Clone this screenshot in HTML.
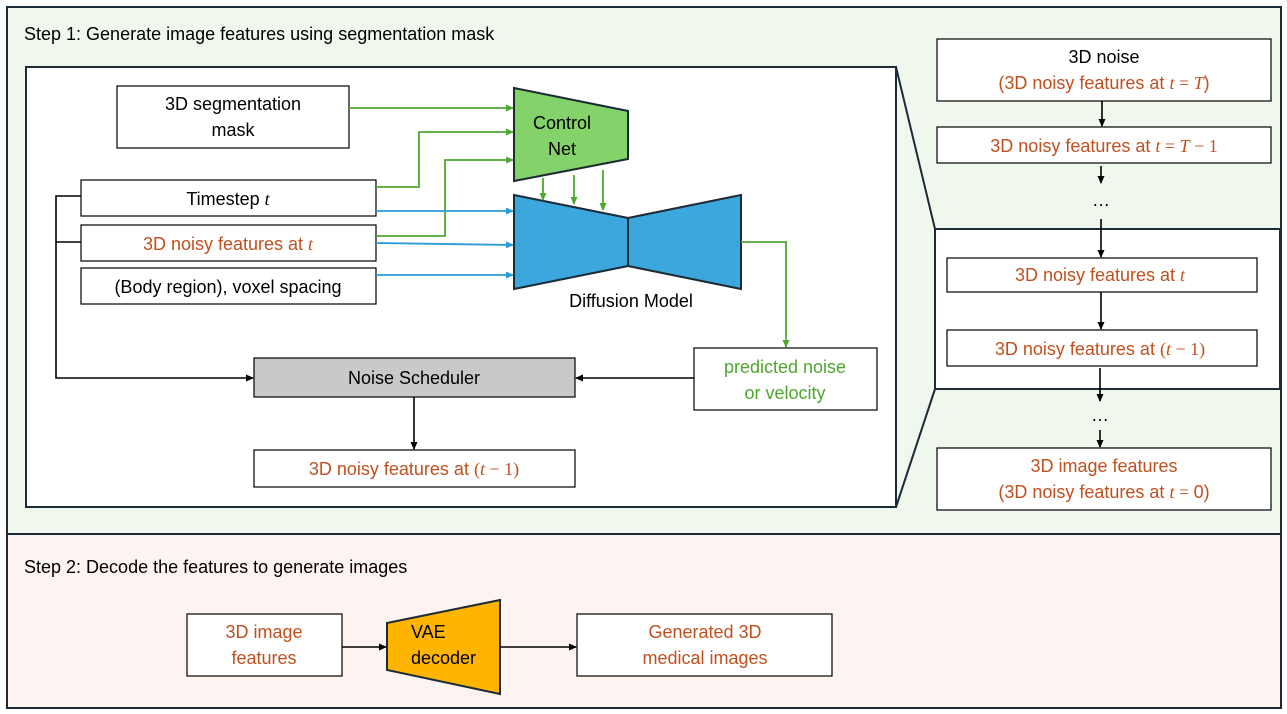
<!DOCTYPE html>
<html><head><meta charset="utf-8"><style>
html,body{margin:0;padding:0;background:#fff;}
svg{display:block;}
text{font-family:"Liberation Sans",sans-serif;font-size:18px;}
.o{fill:#c0501f;}
.g{fill:#4ea72e;}
.m{font-family:"Liberation Serif",serif;font-style:italic;}
.n{font-family:"Liberation Serif",serif;}
</style></head><body>
<svg width="1287" height="714" viewBox="0 0 1287 714" xmlns="http://www.w3.org/2000/svg">
<defs>
<marker id="ak" markerWidth="8" markerHeight="8" refX="7" refY="4" orient="auto" markerUnits="userSpaceOnUse"><path d="M0,0.5 L8,4 L0,7.5z" fill="#000"/></marker>
<marker id="ag" markerWidth="8" markerHeight="8" refX="7" refY="4" orient="auto" markerUnits="userSpaceOnUse"><path d="M0,0.5 L8,4 L0,7.5z" fill="#4ea72e"/></marker>
<marker id="ab" markerWidth="8" markerHeight="8" refX="7" refY="4" orient="auto" markerUnits="userSpaceOnUse"><path d="M0,0.5 L8,4 L0,7.5z" fill="#2a9bd6"/></marker>
</defs>
<rect x="7" y="7" width="1274" height="527" fill="#f0f8ee" stroke="#1c2b36" stroke-width="2"/>
<rect x="7" y="534" width="1274" height="174" fill="#fdf3f0" stroke="#1c2b36" stroke-width="2"/>
<text x="24" y="40">Step 1: Generate image features using segmentation mask</text>
<text x="24" y="573">Step 2: Decode the features to generate images</text>

<rect x="26" y="67" width="870" height="440" fill="#fff" stroke="#1c2b36" stroke-width="2"/>
<line x1="896" y1="67" x2="935" y2="229" stroke="#1c2b36" stroke-width="2"/>
<line x1="896" y1="507" x2="935" y2="389" stroke="#1c2b36" stroke-width="2"/>

<!-- left boxes -->
<g fill="#fff" stroke="#000" stroke-width="1.2">
<rect x="117" y="86" width="232" height="62"/>
<rect x="81" y="180" width="295" height="36"/>
<rect x="81" y="225" width="295" height="36"/>
<rect x="81" y="268" width="295" height="36"/>
<rect x="254" y="358" width="321" height="39" fill="#c9c9c9"/>
<rect x="254" y="450" width="321" height="37"/>
<rect x="694" y="348" width="183" height="62"/>
</g>
<text x="233" y="110" text-anchor="middle">3D segmentation</text>
<text x="233" y="136" text-anchor="middle">mask</text>
<text x="228" y="205" text-anchor="middle">Timestep <tspan class="m">t</tspan></text>
<text x="228" y="250" text-anchor="middle" class="o">3D noisy features at <tspan class="m">t</tspan></text>
<text x="228" y="293" text-anchor="middle">(Body region), voxel spacing</text>
<text x="414" y="384" text-anchor="middle">Noise Scheduler</text>
<text x="414" y="475" text-anchor="middle" class="o">3D noisy features at <tspan class="n">(</tspan><tspan class="m">t</tspan><tspan class="n"> − 1)</tspan></text>
<text x="785" y="373" text-anchor="middle" class="g">predicted noise</text>
<text x="785" y="399" text-anchor="middle" class="g">or velocity</text>

<!-- ControlNet & Diffusion -->
<polygon points="514,88 628,111 628,159 514,181" fill="#84d36a" stroke="#1c2b36" stroke-width="2"/>
<text x="562" y="129" text-anchor="middle">Control</text>
<text x="562" y="155" text-anchor="middle">Net</text>
<polygon points="514,195 628,218 628,266 514,289" fill="#3ca7dc" stroke="#1c2b36" stroke-width="2"/>
<polygon points="628,218 741,195 741,289 628,266" fill="#3ca7dc" stroke="#1c2b36" stroke-width="2"/>
<text x="631" y="307" text-anchor="middle">Diffusion Model</text>

<!-- green lines -->
<g stroke="#4ea72e" stroke-width="1.8" fill="none" marker-end="url(#ag)">
<polyline points="349,108 513,108"/>
<polyline points="376,187 419,187 419,132 513,132"/>
<polyline points="376,236 445,236 445,160 513,160"/>
<line x1="543" y1="178" x2="543" y2="200"/>
<line x1="574" y1="175" x2="574" y2="204"/>
<line x1="603" y1="170" x2="603" y2="210"/>
<polyline points="741,242 786,242 786,347"/>
</g>
<g stroke="#2a9bd6" stroke-width="1.8" fill="none" marker-end="url(#ab)">
<line x1="376" y1="211" x2="513" y2="211"/>
<line x1="376" y1="243" x2="513" y2="245"/>
<line x1="376" y1="275" x2="513" y2="275"/>
</g>
<g stroke="#000" stroke-width="1.6" fill="none">
<polyline points="81,196 56,196 56,378 253,378" marker-end="url(#ak)"/>
<line x1="56" y1="242" x2="81" y2="242"/>
<line x1="694" y1="378" x2="576" y2="378" marker-end="url(#ak)"/>
<line x1="414" y1="397" x2="414" y2="449" marker-end="url(#ak)"/>
</g>

<!-- right column -->
<rect x="935" y="229" width="345" height="160" fill="#fff" stroke="#1c2b36" stroke-width="2"/>
<g fill="#fff" stroke="#000" stroke-width="1.2">
<rect x="937" y="39" width="334" height="62"/>
<rect x="937" y="127" width="334" height="36"/>
<rect x="947" y="258" width="310" height="34"/>
<rect x="947" y="330" width="310" height="36"/>
<rect x="937" y="448" width="334" height="62"/>
</g>
<text x="1104" y="63" text-anchor="middle">3D noise</text>
<text x="1104" y="89" text-anchor="middle" class="o">(3D noisy features at <tspan class="m">t</tspan><tspan class="n"> = </tspan><tspan class="m">T</tspan>)</text>
<text x="1104" y="152" text-anchor="middle" class="o">3D noisy features at <tspan class="m">t</tspan><tspan class="n"> = </tspan><tspan class="m">T</tspan><tspan class="n"> − 1</tspan></text>
<text x="1101" y="206" text-anchor="middle">…</text>
<text x="1100" y="281" text-anchor="middle" class="o">3D noisy features at <tspan class="m">t</tspan></text>
<text x="1100" y="355" text-anchor="middle" class="o">3D noisy features at <tspan class="n">(</tspan><tspan class="m">t</tspan><tspan class="n"> − 1)</tspan></text>
<text x="1100" y="421" text-anchor="middle">…</text>
<text x="1104" y="472" text-anchor="middle" class="o">3D image features</text>
<text x="1104" y="498" text-anchor="middle" class="o">(3D noisy features at <tspan class="m">t</tspan><tspan class="n"> = </tspan>0)</text>
<g stroke="#000" stroke-width="1.6" fill="none" marker-end="url(#ak)">
<line x1="1102" y1="101" x2="1102" y2="126"/>
<line x1="1101" y1="166" x2="1101" y2="183"/>
<line x1="1101" y1="219" x2="1101" y2="257"/>
<line x1="1101" y1="292" x2="1101" y2="329"/>
<line x1="1100" y1="368" x2="1100" y2="401"/>
<line x1="1100" y1="430" x2="1100" y2="447"/>
</g>

<!-- step 2 -->
<rect x="187" y="614" width="155" height="62" fill="#fff" stroke="#000" stroke-width="1.2"/>
<text x="264" y="638" text-anchor="middle" class="o">3D image</text>
<text x="264" y="664" text-anchor="middle" class="o">features</text>
<polygon points="387,623 500,600 500,694 387,670" fill="#ffb400" stroke="#1c2b36" stroke-width="2"/>
<text x="411" y="638">VAE</text>
<text x="411" y="664">decoder</text>
<rect x="577" y="614" width="255" height="62" fill="#fff" stroke="#000" stroke-width="1.2"/>
<text x="705" y="638" text-anchor="middle" class="o">Generated 3D</text>
<text x="705" y="664" text-anchor="middle" class="o">medical images</text>
<g stroke="#000" stroke-width="1.6" marker-end="url(#ak)">
<line x1="342" y1="647" x2="386" y2="647"/>
<line x1="500" y1="647" x2="576" y2="647"/>
</g>
</svg>
</body></html>
